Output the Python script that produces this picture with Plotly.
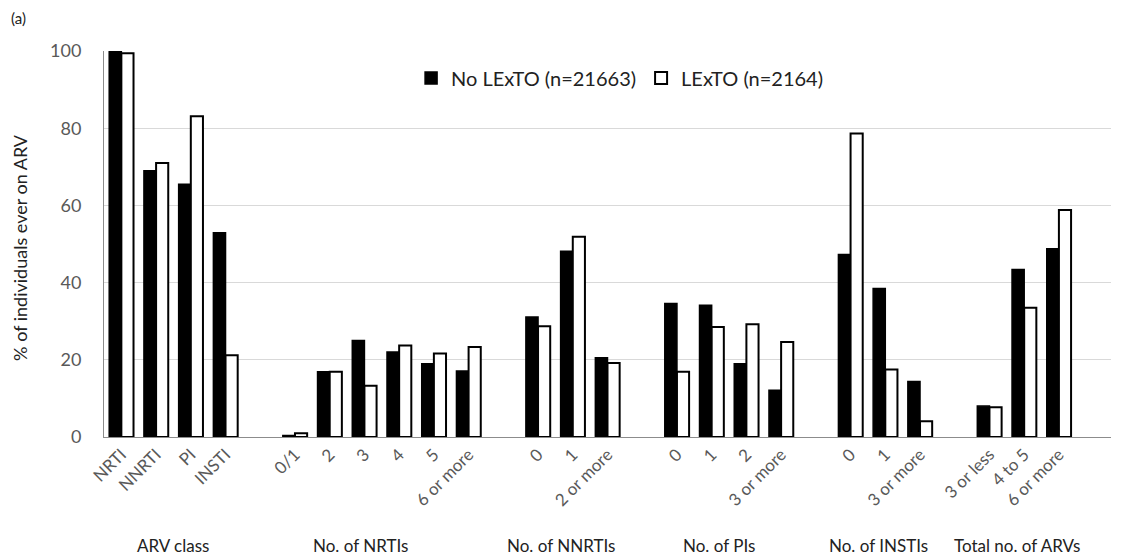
import plotly.graph_objects as go

# ---- data ----
group_names = ["ARV class", "No. of NRTIs", "No. of NNRTIs", "No. of PIs",
               "No. of INSTIs", "Total no. of ARVs"]
arv_class_labels = ["NRTI", "NNRTI", "PI", "INSTI"]
arv_class_no = [100, 69.0, 65.5, 52.9]
arv_class_yes = [99.4, 71.0, 83.1, 21.2]

nrti_labels = ["0/1", "2", "3", "4", "5", "6 or more"]
nrti_no = [0.4, 16.9, 25.0, 22.0, 19.0, 17.1]
nrti_yes = [1.0, 16.9, 13.3, 23.7, 21.6, 23.3]

nnrti_labels = ["0", "1", "2 or more"]
nnrti_no = [31.1, 48.1, 20.5]
nnrti_yes = [28.7, 51.9, 19.2]

pi_labels = ["0", "1", "2", "3 or more"]
pi_no = [34.6, 34.1, 19.0, 12.1]
pi_yes = [16.9, 28.5, 29.2, 24.6]

insti_labels = ["0", "1", "3 or more"]
insti_no = [47.3, 38.5, 14.4]
insti_yes = [78.6, 17.5, 4.1]

total_labels = ["3 or less", "4 to 5", "6 or more"]
total_no = [8.0, 43.4, 48.8]
total_yes = [7.7, 33.5, 58.8]

series_names = ["No LExTO (n=21663)", "LExTO (n=2164)"]

groups = [
    (arv_class_labels, arv_class_no, arv_class_yes),
    (nrti_labels, nrti_no, nrti_yes),
    (nnrti_labels, nnrti_no, nnrti_yes),
    (pi_labels, pi_no, pi_yes),
    (insti_labels, insti_no, insti_yes),
    (total_labels, total_no, total_yes),
]

# ---- build category slots with a blank slot between groups ----
xs, ticktext, v_no, v_yes, centers = [], [], [], [], []
pos = 0
for labels, no, yes in groups:
    start = pos
    for lab, a, b in zip(labels, no, yes):
        xs.append(pos)
        ticktext.append(lab)
        v_no.append(a)
        v_yes.append(b)
        pos += 1
    centers.append((start + pos - 1) / 2)
    pos += 1  # blank slot
n_slots = pos - 1

# small nudges so group titles sit as in the original
label_nudge = [0.0, -0.6, -0.33, -0.3, -0.2, -0.2]

fig = go.Figure()
fig.add_trace(go.Bar(x=xs, y=v_no, name=series_names[0],
                     marker=dict(color="black", line=dict(color="black", width=1.5))))
fig.add_trace(go.Bar(x=xs, y=v_yes, name=series_names[1],
                     marker=dict(color="white", line=dict(color="black", width=2))))

font_fam = "Lato, 'Open Sans', sans-serif"
# page body adds an 8px offset; the figure is sized to compensate
fig.update_layout(
    width=1113, height=551,
    margin=dict(l=96, r=10, t=43, b=122),
    paper_bgcolor="white", plot_bgcolor="white",
    barmode="group", bargap=0.3, bargroupgap=0,
    font=dict(family=font_fam, color="#595959"),
    legend=dict(orientation="h", x=0.512, y=0.93, xanchor="center", yanchor="middle",
                font=dict(size=20, color="#222222"), bgcolor="rgba(0,0,0,0)",
                traceorder="normal"),
    showlegend=True,
)
fig.update_xaxes(range=[-0.5, n_slots + 0.5], tickmode="array", tickvals=xs,
                 ticktext=ticktext, tickangle=-45, tickfont=dict(size=17, color="#595959"),
                 showgrid=False, showline=True, linecolor="#8c8c8c", linewidth=1,
                 ticks="", zeroline=False)
fig.update_yaxes(range=[0, 100], tickvals=[0, 20, 40, 60, 80, 100],
                 tickfont=dict(size=18, color="#595959"), showgrid=True,
                 gridcolor="#d9d9d9", gridwidth=1, showline=True, linecolor="#8c8c8c",
                 linewidth=1, ticks="", ticklabelstandoff=18, zeroline=False)

for name, c, d in zip(group_names, centers, label_nudge):
    fig.add_annotation(x=c + d, y=-0.281, xref="x", yref="paper", text=name,
                       showarrow=False, font=dict(size=17, color="#222222"),
                       xanchor="center", yanchor="middle")

fig.add_annotation(x=-0.0834, y=0.49, xref="paper", yref="paper",
                   text="% of individuals ever on ARV", textangle=-90, showarrow=False,
                   font=dict(size=18, color="#222222"), xanchor="center", yanchor="middle")
fig.add_annotation(x=-0.094, y=1.085, xref="paper", yref="paper", text="(a)",
                   showarrow=False, font=dict(size=15, color="#222222"),
                   xanchor="left", yanchor="middle")

fig.write_html("out.html")
